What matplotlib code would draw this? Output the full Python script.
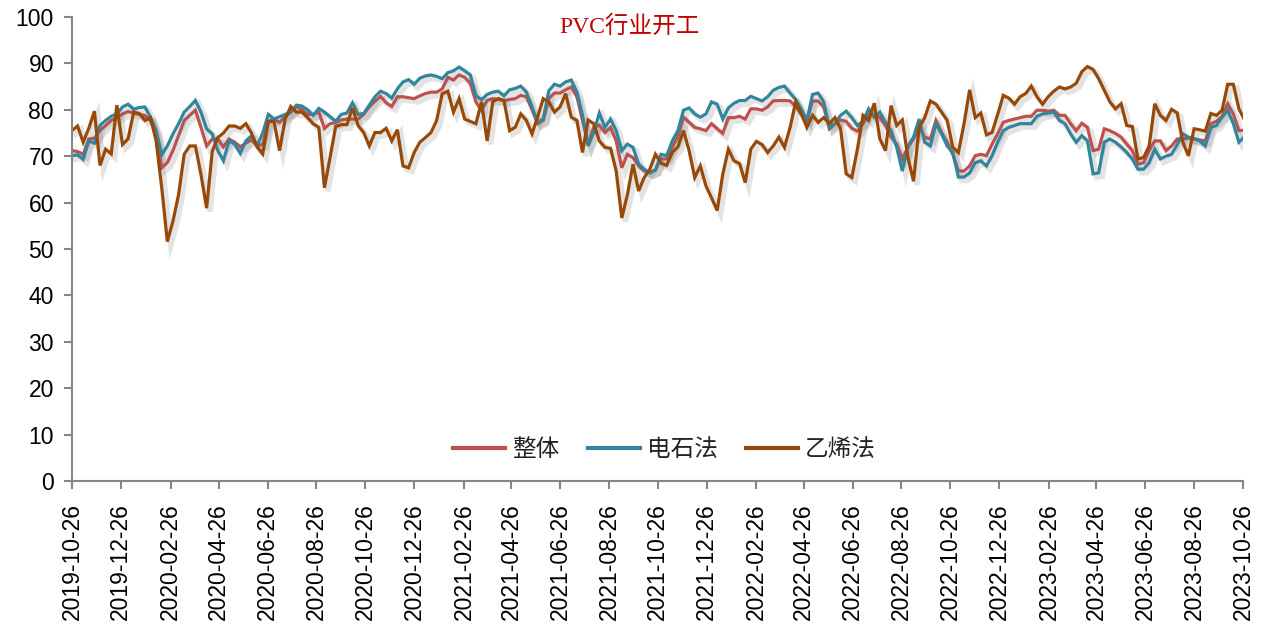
import matplotlib
matplotlib.use('Agg')
import matplotlib.pyplot as plt
import matplotlib.dates as mdates
import matplotlib.patheffects as pe
import pandas as pd

# %% Data (weekly operating rates, %)
start_date = '2019-10-26'

overall = [
    71.2, 71.0, 70.4, 73.7, 73.9, 75.5, 76.6, 77.7, 78.3, 79.1,
    79.6, 79.3, 79.0, 78.8, 77.7, 74.8, 67.5, 68.6, 71.2, 74.4,
    77.7, 78.8, 79.9, 76.2, 72.2, 73.7, 73.7, 72.0, 73.7, 73.0,
    72.0, 72.8, 73.5, 72.2, 72.6, 77.5, 78.0, 77.3, 78.5, 79.5,
    80.7, 80.0, 79.0, 79.0, 79.5, 76.0, 77.0, 77.2, 77.8, 78.0,
    78.0, 78.0, 79.0, 80.6, 81.8, 82.9, 81.5, 80.7, 82.8, 82.8,
    82.6, 82.4, 83.0, 83.5, 83.8, 83.8, 84.5, 87.0, 86.4, 87.5,
    87.0, 85.7, 81.7, 79.9, 82.0, 82.4, 82.2, 82.0, 82.2, 82.4,
    83.1, 82.8, 80.0, 77.0, 77.7, 82.4, 83.6, 83.6, 84.3, 84.9,
    82.8, 77.7, 72.6, 76.2, 76.7, 75.1, 76.2, 73.3, 67.5, 70.4,
    69.7, 67.9, 66.8, 66.5, 67.0, 69.4, 69.4, 71.9, 74.1, 78.4,
    77.3, 76.2, 75.9, 75.5, 77.0, 75.9, 74.9, 78.3, 78.3, 78.6,
    78.0, 80.2, 80.2, 79.9, 80.6, 81.9, 82.0, 82.0, 81.9, 80.7,
    79.0, 77.7, 81.9, 81.9, 80.6, 75.9, 77.0, 77.8, 77.5, 76.0,
    75.4, 77.0, 79.0, 79.0, 78.4, 76.6, 74.1, 72.6, 69.4, 71.9,
    73.7, 76.2, 74.1, 73.7, 77.7, 75.1, 73.0, 70.4, 66.8, 66.8,
    67.9, 70.1, 70.4, 70.1, 72.6, 74.8, 77.3, 77.7, 78.0, 78.3,
    78.6, 78.6, 79.9, 79.9, 79.7, 79.9, 78.8, 78.8, 77.0, 75.5,
    77.1, 76.2, 71.2, 71.5, 75.9, 75.5, 74.9, 74.1, 72.6, 71.2,
    68.3, 68.6, 71.2, 73.3, 73.3, 71.2, 72.2, 73.7, 73.7, 73.9,
    73.7, 73.5, 73.3, 77.0, 77.5, 78.6, 81.3, 79.1, 75.5, 75.6,
]

carbide = [
    70.1, 70.3, 69.3, 73.3, 72.8, 76.6, 77.7, 78.6, 79.1, 80.6,
    81.2, 80.1, 80.5, 80.6, 78.4, 75.5, 70.3, 72.2, 74.8, 77.0,
    79.5, 80.7, 82.0, 79.5, 75.9, 74.8, 71.2, 69.0, 73.3, 72.6,
    70.6, 73.3, 74.4, 72.2, 75.0, 79.0, 78.0, 78.5, 79.0, 79.5,
    81.0, 80.8, 80.0, 78.8, 80.3, 79.5, 78.5, 77.5, 79.0, 79.3,
    81.5, 79.0, 79.2, 81.0, 82.8, 84.0, 83.5, 82.5, 84.5, 86.0,
    86.5, 85.5, 86.8, 87.3, 87.5, 87.2, 86.7, 88.0, 88.4, 89.2,
    88.4, 87.5, 83.0, 82.2, 83.3, 83.8, 84.0, 83.0, 84.3, 84.6,
    85.1, 83.8, 80.6, 77.3, 78.0, 84.1, 85.5, 85.1, 86.0, 86.4,
    83.8, 78.8, 72.2, 75.1, 79.3, 76.2, 78.0, 75.5, 71.2, 72.6,
    71.9, 68.3, 67.2, 66.4, 67.0, 70.4, 70.1, 73.3, 75.5, 79.9,
    80.4, 79.1, 78.4, 79.1, 81.7, 81.2, 78.0, 80.4, 81.4, 82.0,
    82.0, 82.9, 82.4, 81.9, 82.8, 84.2, 84.8, 85.1, 83.6, 82.2,
    80.2, 77.7, 83.3, 83.6, 81.7, 76.2, 77.0, 78.8, 79.7, 78.3,
    76.6, 77.5, 80.2, 78.4, 79.5, 77.3, 75.5, 71.9, 66.8, 72.2,
    74.1, 78.0, 73.0, 72.2, 77.0, 74.8, 72.2, 70.8, 65.5, 65.5,
    66.4, 68.6, 69.0, 67.9, 70.1, 73.0, 75.5, 76.2, 76.6, 77.0,
    77.0, 77.0, 78.6, 79.1, 79.3, 79.5, 77.7, 77.0, 74.8, 73.0,
    74.4, 73.3, 66.2, 66.4, 73.0, 73.7, 73.0, 72.0, 70.8, 69.4,
    67.2, 67.2, 68.6, 71.5, 69.4, 70.0, 70.4, 72.5, 74.8, 74.1,
    73.8, 73.3, 72.2, 76.2, 76.6, 78.4, 79.9, 77.0, 73.0, 74.2,
]

ethylene = [
    75.5, 76.5, 73.0, 76.0, 79.7, 68.0, 71.5, 70.5, 81.0, 72.5,
    73.7, 79.5, 79.2, 77.7, 78.3, 73.3, 63.2, 51.6, 56.0, 61.7,
    70.4, 72.2, 72.2, 66.0, 58.8, 71.0, 74.0, 75.0, 76.5, 76.5,
    76.0, 77.0, 75.0, 72.0, 70.5, 77.5, 77.5, 71.2, 78.0, 80.7,
    79.5, 79.5, 78.3, 77.0, 76.2, 63.2, 69.7, 76.4, 76.8, 76.8,
    80.4, 76.6, 75.1, 72.2, 75.1, 75.1, 76.0, 73.3, 75.7, 67.9,
    67.5, 70.8, 73.0, 74.0, 75.1, 77.7, 83.5, 84.0, 79.5, 82.4,
    78.0, 77.5, 77.0, 81.7, 73.3, 81.7, 82.4, 82.0, 75.5, 76.2,
    79.1, 77.7, 74.8, 78.5, 82.4, 81.7, 79.5, 80.6, 83.5, 78.4,
    77.7, 70.8, 77.8, 77.0, 73.3, 71.9, 71.7, 66.8, 56.7, 61.7,
    68.3, 62.5, 65.4, 67.2, 70.4, 68.5, 68.0, 70.8, 72.0, 75.5,
    71.2, 65.4, 67.9, 63.6, 61.0, 58.3, 66.1, 71.5, 69.0, 68.4,
    64.3, 71.5, 73.2, 72.5, 70.8, 72.2, 74.1, 71.9, 76.2, 81.7,
    79.1, 76.2, 78.8, 77.3, 78.3, 77.0, 78.3, 75.9, 66.2, 65.4,
    71.5, 78.8, 77.7, 81.4, 73.7, 71.2, 80.9, 76.6, 77.8, 69.7,
    64.6, 76.2, 78.3, 81.9, 81.2, 79.5, 77.7, 71.9, 70.8, 77.0,
    84.3, 78.3, 79.3, 74.6, 75.1, 79.0, 83.1, 82.5, 81.2, 82.8,
    83.5, 85.1, 82.8, 81.2, 82.8, 84.0, 84.9, 84.5, 84.9, 85.7,
    88.2, 89.3, 88.7, 86.7, 84.2, 81.7, 80.2, 81.3, 76.6, 76.4,
    69.4, 69.7, 72.2, 81.3, 78.8, 77.7, 80.1, 79.3, 73.0, 70.1,
    75.9, 75.7, 75.4, 79.2, 78.8, 79.9, 85.5, 85.5, 80.2, 77.8,
]

series_names = ['整体', '电石法', '乙烯法']
series_colors = ['#C0504D', '#31859C', '#984807']

dates = pd.date_range(start_date, periods=len(overall), freq='7D')
# axis ticks every two months on the 26th
tick_dates = [pd.Timestamp(start_date) + pd.DateOffset(months=2 * k) for k in range(25)]

# %% Figure
plt.rcParams['font.family'] = ['Liberation Sans', 'Noto Sans CJK SC']

fig = plt.figure(figsize=(12.67, 6.28), dpi=100)
ax = fig.add_axes([0.0568, 0.234, 0.9242, 0.739])

shadow = [pe.SimpleLineShadow(offset=(2.5, -2.5), shadow_color='0.45', alpha=0.2, linewidth=4),
          pe.Normal()]

for vals, name, col in zip([overall, carbide, ethylene], series_names, series_colors):
    ax.plot(dates, vals, color=col, lw=2.3, label=name, path_effects=shadow,
            solid_joinstyle='miter')

ax.set_ylim(0, 100)
ax.set_yticks(range(0, 101, 10))
ax.set_xlim(tick_dates[0], tick_dates[-1])
ax.set_xticks(tick_dates)
ax.xaxis.set_major_formatter(mdates.DateFormatter('%Y-%m-%d'))
plt.setp(ax.get_xticklabels(), rotation=90)

for s in ['top', 'right']:
    ax.spines[s].set_visible(False)
for s in ['left', 'bottom']:
    ax.spines[s].set_color('#868686')
    ax.spines[s].set_linewidth(1.5)
ax.tick_params(axis='both', colors='#868686', width=1.5, length=6, labelsize=16.5,
               labelcolor='black')
ax.tick_params(axis='y', pad=7)
ax.tick_params(axis='x', pad=10)

leg = ax.legend(loc='center', bbox_to_anchor=(0.506, 0.068), ncol=3, frameon=False,
                prop={'family': ['Noto Sans CJK SC'], 'size': 17},
                handlelength=2.2, handletextpad=0.3, columnspacing=1.2)
for line in leg.get_lines():
    line.set_linewidth(3)
    line.set_path_effects([])
for t in leg.get_texts():
    t.set_color('#222222')

fig.text(0.497, 1 - 27 / 628, 'PVC行业开工', ha='center', va='center', color='#C00000',
         fontsize=17, family=['Liberation Serif', 'Noto Sans CJK SC'])

plt.savefig('out.png', dpi=100)
